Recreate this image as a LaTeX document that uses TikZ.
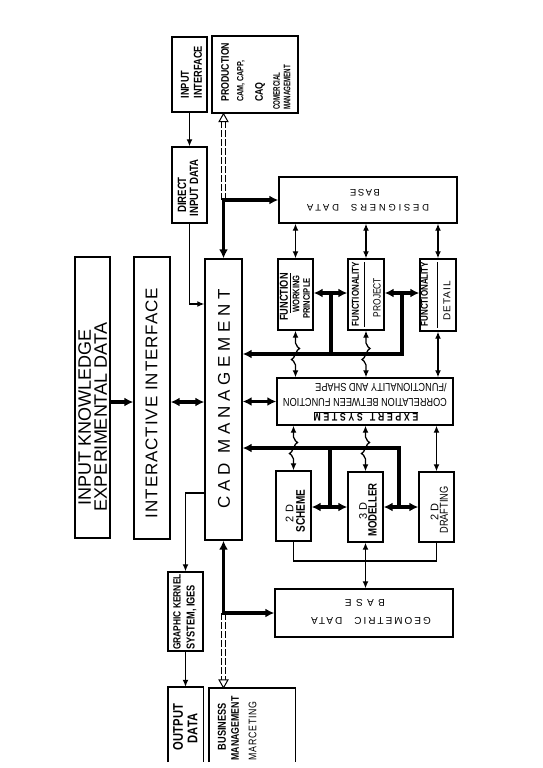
\documentclass[tikz,border=0pt]{standalone}
\usepackage{fontspec}
\setmainfont{Liberation Sans}
\newfontfamily\cnd[FakeStretch=0.8]{Liberation Sans}
\newfontfamily\cnds[FakeStretch=0.65]{Liberation Sans}
\usetikzlibrary{arrows.meta,calc}
\newcommand\fsz[1]{\fontsize{#1}{#1}\selectfont}
\tikzset{
  box/.style={draw, line width=1.4pt, inner sep=0pt},
  lbl/.style={inner sep=0pt},
  thn/.style={line width=1.3pt},
  thna/.style={thn, -{Latex[length=7pt,width=6pt]}},
  thnb/.style={thn, {Latex[length=7pt,width=6pt]}-{Latex[length=7pt,width=6pt]}},
  thk/.style={line width=3.2pt},
  thka/.style={thk, -{Latex[length=9pt,width=9pt]}},
  thkr/.style={thk, {Latex[length=9pt,width=9pt]}-},
  thkb/.style={thk, {Latex[length=9pt,width=9pt]}-{Latex[length=9pt,width=9pt]}},
  dsh/.style={line width=0.8pt, dash pattern=on 7pt off 2pt},
  hol/.style={line width=1pt, fill=white},
  bar/.style={line width=1pt},
  r90/.style={lbl, rotate=90},
  r180/.style={lbl, rotate=180}
}
\begin{document}
\begin{tikzpicture}[x=1pt,y=-1pt]
\useasboundingbox (0,0) rectangle (543,768);
% ---------- boxes
\node[box, minimum width=35pt, minimum height=281pt] (ikd) at (92.5,397.5) {};
\node[box, minimum width=36pt, minimum height=282pt] (ii) at (152,398) {};
\node[box, minimum width=37pt, minimum height=281pt] (cad) at (223.5,399.5) {};
\node[box, minimum width=35pt, minimum height=75pt] (inif) at (189.5,74.5) {};
\node[box, minimum width=86pt, minimum height=77pt] (prod) at (255,74.5) {};
\node[box, minimum width=35pt, minimum height=76pt] (dir) at (189.5,185) {};
\node[box, minimum width=178pt, minimum height=46pt] (ddb) at (368,200) {};
\node[box, minimum width=35pt, minimum height=71pt] (fwp) at (295.5,294.5) {};
\node[box, minimum width=36pt, minimum height=71pt] (fp) at (366,294.5) {};
\node[box, minimum width=36pt, minimum height=72pt] (fd) at (438,295) {};
\node[box, minimum width=176pt, minimum height=47pt] (es) at (365,401.5) {};
\node[box, minimum width=35pt, minimum height=70pt] (s2d) at (293.5,506) {};
\node[box, minimum width=35pt, minimum height=70pt] (m3d) at (365.5,507) {};
\node[box, minimum width=35pt, minimum height=70pt] (d2d) at (436.5,507) {};
\node[box, minimum width=178pt, minimum height=48pt] (gdb) at (364,613) {};
\node[box, minimum width=35pt, minimum height=79pt] (gk) at (185.5,611.5) {};
\node[lbl, minimum width=35pt, minimum height=75pt] (out) at (185.5,724.5) {};
\node[lbl, minimum width=86pt, minimum height=74pt] (bus) at (252,725) {};
\draw[line width=1.4pt] (out.south west) -- (out.north west) -- (out.north east) -- (out.south east);
\draw[line width=1.4pt] (bus.south west) -- (bus.north west) -- (bus.north east) -- (bus.south east);
% ---------- texts
\node[r90, align=center, font=\fontsize{18}{16}\selectfont] (t1) at (92.5,417) {INPUT KNOWLEDGE\\EXPERIMENTAL DATA};
\node[r90, font=\fsz{17}\addfontfeature{LetterSpace=5.5}] (t2) at (151.5,403) {INTERACTIVE INTERFACE};
\node[r90, font=\fsz{17}\addfontfeature{LetterSpace=28}] (t3) at (224,399) {CAD MANAGEMENT};
\node[r90, anchor=west, font=\cnd\bfseries\fsz{11.5}] (t4) at (185,98.5) {INPUT};
\node[r90, anchor=west, font=\cnd\bfseries\fsz{11.5}] (t5) at (198,98.5) {INTERFACE};
\node[r90, anchor=west, font=\cnd\bfseries\fsz{11}] (t6) at (225,102) {PRODUCTION};
\node[r90, anchor=west, font=\cnd\bfseries\fsz{9}] (t7) at (241,102) {CAM, CAPP,};
\node[r90, anchor=west, font=\cnd\bfseries\fsz{11}] (t8) at (260,102) {CAQ};
\node[r90, anchor=west, font=\cnds\bfseries\fsz{9.5}] (t9) at (276.5,110) {COMERCIAL};
\node[r90, anchor=west, font=\cnds\bfseries\fsz{9.5}] (t10) at (287,110) {MANAGEMENT};
\node[r90, font=\cnd\bfseries\fsz{12}] (t11) at (182,195) {DIRECT};
\node[r90, font=\cnd\bfseries\fsz{12}] (t12) at (194,188) {INPUT DATA};
\node[r180, font=\fsz{9.5}\addfontfeature{LetterSpace=29}] (t13) at (368,207.5) {DESIGNERS\hspace{12pt}DATA};
\node[r180, font=\fsz{9.5}\addfontfeature{LetterSpace=16}] (t14) at (365,193) {BASE};
\node[r90, font=\cnd\bfseries\fsz{11.5}] (t15) at (284,297) {FUNCTION};
\node[r90, font=\cnd\bfseries\fsz{9.5}] (t16) at (296,294) {WORKING};
\node[r90, font=\cnd\bfseries\fsz{9.5}] (t17) at (306.5,298.5) {PRINCIPLE};
\node[r90, font=\cnd\bfseries\fsz{10}] (t18) at (355.5,294) {FUNCTIONALITY};
\node[r90, font=\cnd\fsz{10.5}] (t19) at (377,297.5) {PROJECT};
\node[r90, font=\cnd\bfseries\fsz{10}] (t20) at (424.5,294) {FUNCTIONALITY};
\node[r90, font=\fsz{10}\addfontfeature{LetterSpace=10}] (t21) at (447,301) {DETAIL};
\draw[bar] (290.5,273) -- (290.5,313);
\draw[bar] (364,262) -- (364,327);
\draw[bar] (437,262) -- (437,328);
\node[r180, font=\cnd\bfseries\fsz{11}\addfontfeature{LetterSpace=24}] (t22) at (366,416) {\underline{EXPERT\hspace{7pt}SYSTEM}};
\node[r180, font=\cnd\fsz{11.5}] (t23) at (365,402.5) {CORRELATION BETWEEN FUNCTION};
\node[r180, font=\cnd\fsz{11.5}] (t24) at (381,388) {/FUNCTIONALITY AND SHAPE};
\node[r90, font=\fsz{11}] (t25) at (289.5,513.5) {2 D};
\node[r90, font=\cnd\bfseries\fsz{12.5}] (t26) at (300.5,511) {SCHEME};
\node[r90, font=\fsz{11}] (t27) at (363,511) {3 D};
\node[r90, font=\cnd\bfseries\fsz{12}] (t28) at (372.5,510) {MODELLER};
\node[r90, font=\fsz{11}] (t29) at (434.5,512) {2 D};
\node[r90, font=\cnd\fsz{11.5}] (t30) at (444,510) {DRAFTING};
\node[r180, font=\fsz{10}\addfontfeature{LetterSpace=20}] (t31) at (371,621) {GEOMETRIC\hspace{12pt}DATA};
\node[r180, font=\fsz{10}\addfontfeature{LetterSpace=44}] (t32) at (365,603) {BASE};
\node[r90, anchor=west, font=\cnd\bfseries\fsz{10.5}] (t33) at (177,650) {GRAPHIC KERNEL};
\node[r90, anchor=west, font=\cnd\bfseries\fsz{11.5}] (t34) at (191.5,650) {SYSTEM, IGES};
\node[r90, font=\cnd\bfseries\fsz{14}] (t35) at (178,727) {OUTPUT};
\node[r90, font=\cnd\bfseries\fsz{14}] (t36) at (192.5,728.5) {DATA};
\node[r90, font=\cnd\bfseries\fsz{11.5}] (t37) at (222,726.5) {BUSINESS};
\node[r90, font=\cnd\bfseries\fsz{11}] (t38) at (235,728.5) {MANAGEMENT};
\node[r90, font=\cnd\fsz{11}\addfontfeature{LetterSpace=6}] (t39) at (252.5,731) {MARCETING};
% ---------- connectors: left column
\draw[thka] (ikd.east |- 0,402) -- (ii.west |- 0,402);
\draw[thkb] (ii.east |- 0,402) -- (cad.west |- 0,402);
\draw[thna] (inif.south) -- (dir.north);
\draw[thna] (dir.south) |- (cad.west |- 0,304);
\draw[thna] (cad.west |- 0,493) -| (gk.north);
\draw[thna] (gk.south) -- (out.north);
% ---------- top junction
\coordinate (jt) at (cad.north |- ddb.west);
\coordinate (pt) at (jt |- prod.south);
\draw[thka] (jt) -- (cad.north);
\draw[thka] ($(jt)+(-1.6,0)$) -- (ddb.west);
\draw[dsh] ($(jt)+(-2,0)$) -- ($(pt)+(-2,8)$);
\draw[dsh] ($(jt)+(2,0)$) -- ($(pt)+(2,8)$);
\draw[hol] ($(pt)+(-4.5,8)$) -- (pt) -- ($(pt)+(4.5,8)$) -- cycle;
% ---------- bottom junction
\coordinate (jb) at (cad.south |- gdb.west);
\coordinate (pb) at (jb |- bus.north);
\draw[thka] (jb) -- (cad.south);
\draw[thka] ($(jb)+(-1.6,0)$) -- (gdb.west);
\draw[dsh] ($(jb)+(-2,0)$) -- ($(pb)+(-2,-8)$);
\draw[dsh] ($(jb)+(2,0)$) -- ($(pb)+(2,-8)$);
\draw[hol] ($(pb)+(-4.5,-8)$) -- (pb) -- ($(pb)+(4.5,-8)$) -- cycle;
% ---------- designers data base links
\draw[thnb] (fwp.north |- ddb.south) -- (fwp.north);
\draw[thnb] (fp.north |- ddb.south) -- (fp.north);
\draw[thnb] (fd.north |- ddb.south) -- (fd.north);
% ---------- upper thick bus
\coordinate (ua) at (331,293);
\coordinate (ub) at (402,293);
\draw[thkr] (cad.east |- 0,354) -- (ub |- 0,354) -- (ub);
\draw[thk] (ua |- 0,354) -- (ua);
\draw[thkb] (fwp.east |- ua) -- (fp.west |- ua);
\draw[thkb] (fp.east |- ub) -- (fd.west |- ub);
% ---------- cad <-> expert system
\draw[thkb] (cad.east |- es.west) -- (es.west);
% ---------- upper links to expert system (with hops)
\draw[thnb] (fwp.south) -- (295.5,343) sin (299.5,348.5) cos (295.5,354) sin (291.5,359.5) cos (295.5,365) -- (fwp.south |- es.north);
\draw[thnb] (fp.south) -- (366,343) sin (370,348.5) cos (366,354) sin (362,359.5) cos (366,365) -- (fp.south |- es.north);
\draw[thnb] (fd.south) -- (fd.south |- es.north);
% ---------- lower thick bus
\coordinate (la) at (330,507);
\coordinate (lb) at (399,507);
\draw[thkr] (cad.east |- 0,448) -- (lb |- 0,448) -- (lb);
\draw[thk] (la |- 0,448) -- (la);
\draw[thkb] (s2d.east |- la) -- (m3d.west |- la);
\draw[thkb] (m3d.east |- lb) -- (d2d.west |- lb);
% ---------- lower links from expert system
\draw[thnb] (s2d.north |- es.south) -- (293.5,437) sin (297.5,442.5) cos (293.5,448) sin (289.5,453.5) cos (293.5,459) -- (s2d.north);
\draw[thnb] (m3d.north |- es.south) -- (365.5,437) sin (369.5,442.5) cos (365.5,448) sin (361.5,453.5) cos (365.5,459) -- (m3d.north);
\draw[thnb] (d2d.north |- es.south) -- (d2d.north);
% ---------- bottom links
\draw[thn] (s2d.south) -- (s2d.south |- 0,561) -| (d2d.south);
\draw[thnb] (m3d.south) -- (m3d.south |- gdb.north);
\end{tikzpicture}
\end{document}
